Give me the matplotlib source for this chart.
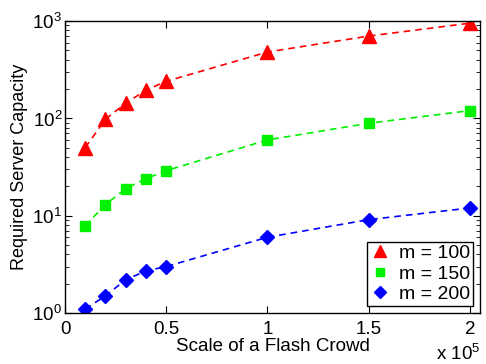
import matplotlib
matplotlib.use("Agg")
import matplotlib.pyplot as plt
from matplotlib.ticker import LogLocator, NullFormatter, FixedLocator

plt.rcParams['font.family'] = ['Liberation Sans', 'DejaVu Sans']
plt.rcParams['mathtext.fontset'] = 'custom'
plt.rcParams['mathtext.rm'] = 'Liberation Sans'

x = [0.1, 0.2, 0.3, 0.4, 0.5, 1.0, 1.5, 2.0]
m100 = [50, 98, 143, 195, 240, 480, 700, 950]
m150 = [7.9, 13, 19, 24, 29, 60, 89, 120]
m200 = [1.1, 1.5, 2.2, 2.7, 3.0, 6.0, 9.1, 12]
labels = ['m = 100', 'm = 150', 'm = 200']

fig = plt.figure(figsize=(4.86, 3.64), dpi=100)
ax = fig.add_axes([65/486, 1-313/364, 415/486, 292/364])

green = '#00f000'
ax.plot(x, m100, ls='--', color='red', lw=1.2, dashes=(4, 3))
ax.plot(x, m150, ls='--', color=green, lw=1.2, dashes=(4, 3))
ax.plot(x, m200, ls='--', color='blue', lw=1.2, dashes=(4, 3))
h1, = ax.plot(x, m100, ls='none', marker='^', color='red', ms=9.5, label=labels[0])
h2, = ax.plot(x, m150, ls='none', marker='s', color=green, ms=7, label=labels[1])
h3, = ax.plot(x, m200, ls='none', marker='D', color='blue', ms=7, label=labels[2])

ax.set_yscale('log')
ax.set_xlim(0, 2.05)
ax.set_ylim(1, 1000)
ax.set_xticks([0, 0.5, 1, 1.5, 2])
ax.set_xticklabels(['0', '0.5', '1', '1.5', '2'])
ax.yaxis.set_major_locator(FixedLocator([1, 10, 100, 1000]))
ax.set_yticklabels([r'$10^{0}$', r'$10^{1}$', r'$10^{2}$', r'$10^{3}$'])
ax.yaxis.set_minor_locator(LogLocator(base=10, subs=range(2, 10)))
ax.yaxis.set_minor_formatter(NullFormatter())
ax.tick_params(which='both', direction='in', top=True, right=True, labelsize=13.5)
ax.tick_params(which='major', length=5)
ax.tick_params(which='minor', length=3)
ax.tick_params(axis='x', pad=6)
ax.tick_params(axis='y', pad=2)
for s in ax.spines.values():
    s.set_linewidth(1.0)

ax.set_xlabel('Scale of a Flash Crowd', fontsize=13.5, labelpad=0)
ax.set_ylabel('Required Server Capacity', fontsize=13, labelpad=3)
fig.text(480/486, 1-354/364, r'x $10^{5}$', ha='right', va='center', fontsize=13.5)

leg = ax.legend(handles=[h1, h2, h3], loc='lower right', fontsize=14, frameon=True,
                fancybox=False, edgecolor='black', framealpha=1, handlelength=1.0,
                handletextpad=0.5, borderpad=0.15, labelspacing=0.15, borderaxespad=0.35,
                markerscale=0.85)
leg.get_frame().set_linewidth(1.0)

fig.savefig('out.png', dpi=100)
